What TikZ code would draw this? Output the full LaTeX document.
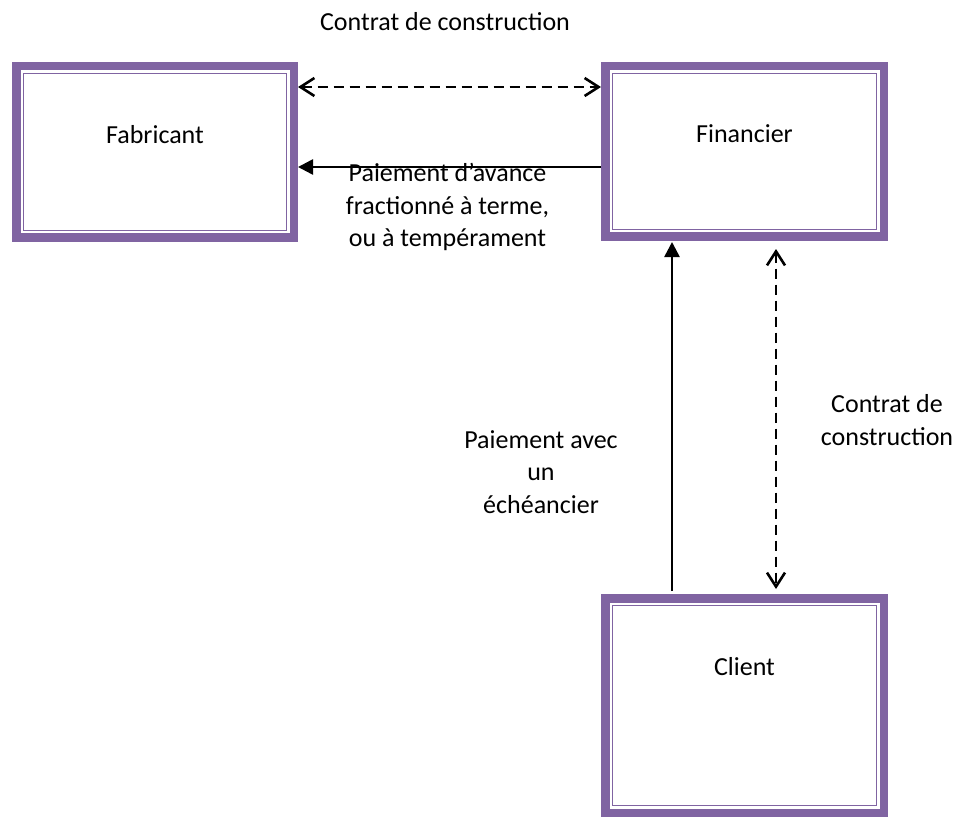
\documentclass[tikz,border=0pt]{standalone}
\usepackage{fontspec}
\setmainfont{Carlito}
\usetikzlibrary{arrows.meta,calc}
\definecolor{purp}{HTML}{8064A2}
\begin{document}
\begin{tikzpicture}[x=1pt,y=-1pt,
  box/.style={draw=purp, line width=8.5pt, inner sep=0pt, align=center, fill=white},
  inbox/.style={draw=purp, line width=1.6pt},
  lbl/.style={align=center, inner sep=0pt, anchor=base},
  solidarrow/.style={line width=2.6pt, -{Triangle[length=15pt,width=15pt]}},
  dasharrow/.style={line width=2.6pt, dash pattern=on 10pt off 6pt,
    {Straight Barb[length=14pt,width=18pt]}-{Straight Barb[length=14pt,width=18pt]}},
  font=\fontsize{26}{32.5}\selectfont]
\path[fill=white, use as bounding box] (0,0) rectangle (960,818);

% boxes
\node[box, text width=277.5pt, text height=77.75pt, text depth=93.75pt, anchor=base] (fab) at (155,144) {Fabricant};
\node[box, text width=278.5pt, text height=76.75pt, text depth=93.75pt, anchor=base] (fin) at (744.5,143) {Financier};
\node[box, text width=278.5pt, text height=76.75pt, text depth=137.75pt, anchor=base] (cli) at (744.5,675) {Client};

\foreach \b in {fab,fin,cli}{
  \draw[inbox] ($(\b.north west)+(11.5,11.5)$) rectangle ($(\b.south east)+(-11.5,-11.5)$);
}

% labels (base = baseline of the last line)
\node[lbl] (l1) at (445,31) {Contrat de construction};
\node[lbl] (l2) at (447.5,247) {Paiement d’avance\\fractionné à terme,\\ou à tempérament};
\node[lbl] (l3) at (541,513) {Paiement avec\\un\\échéancier};
\node[lbl] (l4) at (887,445) {Contrat de\\construction};

% connectors
\draw[dasharrow] ($(fab.north east)+(0,25)$) -- ($(fin.north west)+(0,25)$);
\draw[solidarrow] ($(fin.north west)+(0,105)$) -- ($(fab.north east)+(0,105)$);
\draw[solidarrow] ($(cli.north west)+(71,-3)$) -- ($(fin.south west)+(71,1)$);
\draw[dasharrow, shorten <=8pt, shorten >=5pt] ($(fin.south west)+(175,0)$) -- ($(cli.north west)+(175,0)$);
\end{tikzpicture}
\end{document}
